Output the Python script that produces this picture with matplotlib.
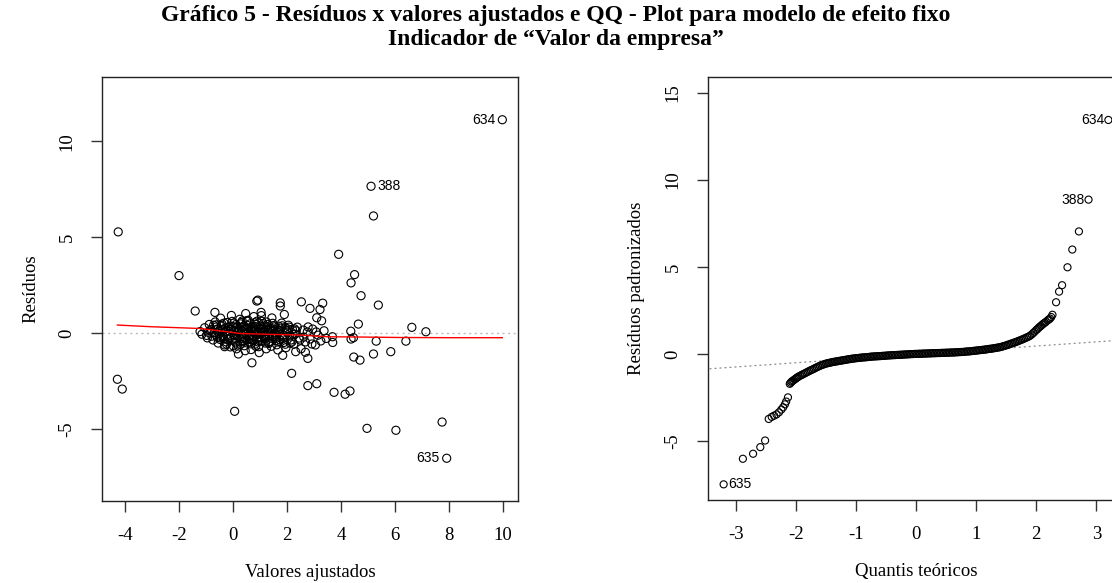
import matplotlib
matplotlib.use("Agg")
import matplotlib.pyplot as plt

# ---- dados: residuos x valores ajustados ----
cluster_x = [
    -1.22, -1.15, -1.05, -0.98, -0.92, -0.88,
    -0.82, -0.78, -0.74, -0.70, -0.66, -0.62, -0.58, -0.55, -0.52, -0.50,
    -0.46, -0.43, -0.40, -0.37, -0.34, -0.31, -0.28, -0.25, -0.22, -0.19, -0.16, -0.13, -0.10,
    -0.06, -0.03, 0.00, 0.02, 0.05, 0.08, 0.10, 0.13, 0.16, 0.19, 0.22, 0.25, 0.28, 0.30,
    0.33, 0.35, 0.38, 0.40, 0.42, 0.45, 0.47, 0.50, 0.52, 0.55, 0.57, 0.60, 0.62,
    0.65, 0.67, 0.70, 0.72, 0.75, 0.77, 0.80, 0.82, 0.85, 0.87, 0.90, 0.92, 0.95,
    0.97, 1.00, 1.02, 1.05, 1.07, 1.10, 1.13, 1.15, 1.18, 1.20, 1.23, 1.26, 1.29,
    1.32, 1.35, 1.38, 1.41, 1.44, 1.47, 1.50, 1.53, 1.56, 1.59, 1.62, 1.66, 1.69,
    1.72, 1.76, 1.80, 1.84, 1.88, 1.92, 1.96, 2.00, 2.05, 2.10, 2.15, 2.20,
    2.25, 2.30, 2.38, 2.45, 2.52, 2.60, 2.68, 2.75, 2.85, 2.95, 3.05, 3.15, 3.25,
    # segundo grupo (nucleo denso)
    -0.95, -0.85, -0.72, -0.64, -0.57, -0.48, -0.41, -0.36, -0.29, -0.24,
    -0.18, -0.12, -0.07, -0.02, 0.03, 0.07, 0.12, 0.17, 0.21, 0.26,
    0.31, 0.36, 0.41, 0.46, 0.51, 0.56, 0.61, 0.66, 0.71, 0.76,
    0.81, 0.86, 0.91, 0.96, 1.01, 1.06, 1.11, 1.16, 1.21, 1.27,
    1.33, 1.39, 1.45, 1.51, 1.58, 1.64, 1.70, 1.78, 1.86, 1.94,
    2.03, 2.12, 2.22, 2.34, 2.48, 2.62, 2.78, 2.92, 3.08, 3.45,
    # terceiro grupo
    -0.62, -0.45, -0.33, -0.21, -0.09, 0.01, 0.11, 0.18, 0.27, 0.34,
    0.43, 0.48, 0.58, 0.63, 0.68, 0.74, 0.79, 0.84, 0.89, 0.94,
    0.99, 1.04, 1.09, 1.14, 1.19, 1.24, 1.31, 1.37, 1.43, 1.49,
    1.55, 1.61, 1.68, 1.74, 1.82, 1.90, 1.98, 2.08, 2.18, 2.28,
]
cluster_y = [
    0.08, -0.06, 0.28, -0.12, 0.04, 0.45,
    0.18, -0.16, -0.36, 0.02, 0.58, 0.32, -0.22, -0.52, 0.12, -0.04,
    0.78, 0.38, 0.18, -0.12, -0.31, -0.62, 0.06, -0.46, 0.55, 0.28, 0.09, -0.27, -0.72,
    0.92, 0.61, 0.34, 0.14, -0.09, -0.29, -0.51, -0.82, 0.04, -0.18, 0.24, 0.72, 0.48, -0.41,
    0.29, 0.11, -0.04, -0.21, -0.66, -0.92, 1.02, 0.64, 0.41, 0.19, 0.03, -0.13, -0.31,
    -0.56, -0.86, 0.11, -0.16, 0.31, 0.86, 0.54, 0.34, 0.14, -0.06, -0.26, -0.46, -0.71,
    -1.02, 0.02, 0.22, 0.91, 0.61, 0.27, 0.07, -0.11, -0.31, -0.52, -0.82, 0.44, 0.16,
    -0.04, -0.21, -0.43, -0.69, 0.79, 0.51, 0.21, 0.01, -0.19, -0.39, -0.61, -0.88, 0.36,
    0.12, -0.08, 0.52, -0.29, -0.49, 0.29, -0.76, 0.06, 0.41, -0.16, -0.36, 0.19,
    -0.58, -0.06, 0.31, -0.26, -0.82, 0.16, -0.46, 0.06, -0.31, 0.21, -0.62, -0.11, -0.41,
    -0.25, 0.12, 0.41, -0.08, 0.22, -0.33, 0.47, -0.18, 0.26, -0.58,
    -0.15, 0.36, 0.18, -0.38, 0.52, -0.14, 0.31, -0.62, 0.12, -0.27,
    0.55, -0.45, 0.38, 0.02, -0.37, 0.67, -0.48, 0.28, -0.33, 0.05,
    -0.58, 0.44, 0.07, -0.19, 0.37, -0.42, 0.49, 0.16, -0.27, 0.34,
    -0.54, 0.15, -0.13, 0.39, -0.28, 0.07, -0.44, 0.26, -0.12, -0.58,
    0.22, -0.52, -0.07, 0.12, -0.36, -0.21, 0.32, -0.57, 0.06, -0.28,
    0.43, -0.26, 0.52, -0.33, 0.21, -0.67, 0.45, 0.08, -0.58, 0.63,
    -0.41, 0.24, -0.19, 0.48, 0.19, -0.39, 0.12, -0.69, 0.62, 0.28,
    -0.42, -0.24, 0.04, 0.36, -0.15, 0.58, -0.49, 0.27, 0.11, -0.21,
    0.33, -0.09, 0.17, -0.36, 0.38, -0.24, 0.14, 0.31, -0.46, 0.22,
]

outlier_x = [
    9.97, 5.11, 5.20, -4.25, -2.00, 3.91, 4.50, 4.37, 4.74, 5.38,
    -1.40, -0.67, 0.88, 0.92, 1.75, 1.75, 1.90, 2.53, 2.85, 3.22,
    3.32, 3.10, 3.28, 1.04, 4.64, 6.62, 7.14, 4.36, 3.37, 3.68,
    3.69, 4.46, 4.37, 5.30, 6.40, 5.20, 5.84, 4.47, 4.70, 0.70,
    2.17, -4.28, -4.10, 0.06, 2.77, 3.10, 3.74, 4.15, 4.33, 4.96,
    6.03, 7.74, 7.91, 2.77, 2.68, 2.32, 1.84, 0.20, -0.31,
]
outlier_y = [
    11.13, 7.66, 6.11, 5.28, 3.00, 4.11, 3.05, 2.62, 1.95, 1.46,
    1.15, 1.08, 1.67, 1.72, 1.58, 1.41, 0.97, 1.63, 1.29, 1.23,
    1.56, 0.80, 0.64, 1.08, 0.47, 0.30, 0.07, 0.10, 0.12, -0.19,
    -0.49, -0.24, -0.31, -0.42, -0.42, -1.09, -0.97, -1.25, -1.41, -1.55,
    -2.10, -2.41, -2.92, -4.08, -2.74, -2.64, -3.09, -3.19, -3.02, -4.97,
    -5.07, -4.64, -6.53, -1.32, -1.00, -0.97, -1.16, -1.09, -0.71,
]

# curva suavizada (lowess)
smooth_x = [-4.28, -3.0, -1.22, -0.73, 0.26, 1.2, 2.48, 3.47, 5.0, 6.19, 8.0, 9.97]
smooth_y = [0.42, 0.33, 0.24, 0.16, -0.02, -0.06, -0.10, -0.19, -0.21, -0.23, -0.24, -0.24]

# ---- dados: QQ-plot ----
qq_x = [
    -3.20, -2.88, -2.71, -2.59, -2.51, -2.45, -2.40, -2.36, -2.32, -2.28,
    -2.24, -2.21, -2.18, -2.16, -2.13, -2.10, -2.085, -2.07, -2.055, -2.04,
    -2.02, -2.00, -1.985, -1.97,
    -1.95, -1.90, -1.85, -1.80, -1.75, -1.70, -1.65, -1.60, -1.55, -1.50,
    -1.45, -1.40, -1.35, -1.30, -1.25, -1.20, -1.15, -1.10, -1.05, -1.00,
    -0.95, -0.90, -0.85, -0.80, -0.75, -0.70, -0.65, -0.60, -0.55, -0.50,
    -0.45, -0.40, -0.35, -0.30, -0.25, -0.20, -0.15, -0.10, -0.05, 0.00,
    0.05, 0.10, 0.15, 0.20, 0.25, 0.30, 0.35, 0.40, 0.45, 0.50,
    0.55, 0.60, 0.65, 0.70, 0.75, 0.80, 0.85, 0.90, 0.95, 1.00,
    1.05, 1.10, 1.15, 1.20, 1.25, 1.30, 1.35, 1.40, 1.45, 1.50,
    1.55, 1.60, 1.65, 1.70, 1.75, 1.80, 1.85, 1.90, 1.95,
    1.975, 2.00, 2.02, 2.04, 2.06, 2.08, 2.10, 2.12, 2.14, 2.16,
    2.19, 2.21, 2.23, 2.25, 2.27, 2.33, 2.38, 2.43, 2.52, 2.60,
    2.71, 2.87, 3.20,
    # pontos intermediarios do trecho central
    -1.925, -1.875, -1.825, -1.775, -1.725, -1.675, -1.625, -1.575, -1.525, -1.475,
    -1.425, -1.375, -1.325, -1.275, -1.225, -1.175, -1.125, -1.075, -1.025, -0.975,
    -0.925, -0.875, -0.825, -0.775, -0.725, -0.675, -0.625, -0.575, -0.525, -0.475,
    -0.425, -0.375, -0.325, -0.275, -0.225, -0.175, -0.125, -0.075, -0.025,
    0.025, 0.075, 0.125, 0.175, 0.225, 0.275, 0.325, 0.375, 0.425, 0.475,
    0.525, 0.575, 0.625, 0.675, 0.725, 0.775, 0.825, 0.875, 0.925, 0.975,
    1.025, 1.075, 1.125, 1.175, 1.225, 1.275, 1.325, 1.375, 1.425, 1.475,
    1.525, 1.575, 1.625, 1.675, 1.725, 1.775, 1.825, 1.875, 1.925,
]
qq_y = [
    -7.50, -6.03, -5.74, -5.36, -4.98, -3.74, -3.62, -3.55, -3.48, -3.36,
    -3.20, -3.07, -2.90, -2.74, -2.50, -1.72, -1.66, -1.60, -1.56, -1.52,
    -1.47, -1.42, -1.38, -1.34,
    -1.30, -1.21, -1.12, -1.03, -0.94, -0.86, -0.77, -0.69, -0.62, -0.56,
    -0.52, -0.48, -0.45, -0.42, -0.39, -0.36, -0.33, -0.30, -0.27, -0.25,
    -0.23, -0.21, -0.20, -0.18, -0.16, -0.15, -0.14, -0.13, -0.11, -0.10,
    -0.09, -0.08, -0.07, -0.06, -0.05, -0.04, -0.03, -0.02, -0.01, 0.00,
    0.01, 0.01, 0.02, 0.03, 0.03, 0.04, 0.05, 0.05, 0.06, 0.07,
    0.07, 0.08, 0.09, 0.10, 0.11, 0.12, 0.14, 0.15, 0.17, 0.19,
    0.21, 0.23, 0.25, 0.28, 0.30, 0.33, 0.36, 0.39, 0.44, 0.49,
    0.55, 0.61, 0.67, 0.74, 0.81, 0.88, 0.96, 1.05, 1.20,
    1.28, 1.37, 1.43, 1.50, 1.56, 1.62, 1.68, 1.74, 1.79, 1.84,
    1.93, 1.98, 2.03, 2.12, 2.25, 2.97, 3.58, 3.95, 4.98, 6.00,
    7.04, 8.87, 13.45,
    -1.25, -1.16, -1.07, -0.98, -0.90, -0.81, -0.73, -0.65, -0.59, -0.54,
    -0.50, -0.46, -0.43, -0.40, -0.37, -0.34, -0.31, -0.28, -0.26, -0.24,
    -0.22, -0.20, -0.19, -0.17, -0.15, -0.14, -0.13, -0.12, -0.11, -0.09,
    -0.08, -0.07, -0.06, -0.05, -0.04, -0.03, -0.02, -0.01, 0.00,
    0.00, 0.01, 0.02, 0.02, 0.03, 0.04, 0.04, 0.05, 0.06, 0.06,
    0.07, 0.08, 0.08, 0.09, 0.10, 0.11, 0.13, 0.14, 0.16, 0.18,
    0.20, 0.22, 0.24, 0.26, 0.29, 0.31, 0.34, 0.37, 0.41, 0.46,
    0.52, 0.58, 0.64, 0.70, 0.77, 0.84, 0.92, 1.00, 1.12,
]
qq_line_x = [-3.6, 3.6]
qq_line_y = [-0.896, 0.836]

labels_left = [("634", 9.97, 11.13, "right"), ("388", 5.11, 7.66, "left"), ("635", 7.91, -6.53, "right")]
labels_right = [("634", 3.20, 13.45, "right"), ("388", 2.87, 8.87, "right"), ("635", -3.20, -7.50, "left")]

serif = ["Liberation Serif", "DejaVu Serif"]
sans = ["Liberation Sans", "DejaVu Sans"]
plt.rcParams["font.family"] = serif
plt.rcParams["axes.unicode_minus"] = False

fig = plt.figure(figsize=(11.12, 5.83), dpi=100)
ax1 = fig.add_axes([102 / 1112, 1 - 501 / 583, 416 / 1112, 424 / 583])
ax2 = fig.add_axes([708 / 1112, 1 - 500 / 583, 416 / 1112, 423 / 583])

def style(ax):
    for s in ax.spines.values():
        s.set_linewidth(1.0)
        s.set_color("#222222")
    ax.tick_params(axis="both", length=8, width=1.0, labelsize=13.5, pad=11, color="#333333")
    for lab in ax.get_yticklabels():
        lab.set_rotation(90)
        lab.set_va("center")

# painel esquerdo
ax1.axhline(0, color="#bbbbbb", lw=1.0, ls=(0, (1.5, 2.5)), zorder=1)
ax1.scatter(cluster_x, cluster_y, s=34, facecolors="none", edgecolors="black", linewidths=0.8, zorder=2)
ax1.scatter(outlier_x, outlier_y, s=34, facecolors="none", edgecolors="black", linewidths=0.8, zorder=2)
ax1.plot(smooth_x, smooth_y, color="red", lw=1.0, zorder=3)
for txt, x, y, ha in labels_left:
    off = -0.25 if ha == "right" else 0.25
    ax1.text(x + off, y, txt, ha=ha, va="center", fontsize=10, family=sans)
ax1.set_xlim(-4.85, 10.55)
ax1.set_ylim(-8.76, 13.36)
ax1.set_xticks([-4, -2, 0, 2, 4, 6, 8, 10])
ax1.set_yticks([-5, 0, 5, 10])
ax1.set_xlabel("Valores ajustados", fontsize=13.5, labelpad=14)
ax1.set_ylabel("Resíduos", fontsize=13.5, labelpad=14)
style(ax1)

# painel direito
ax2.plot(qq_line_x, qq_line_y, color="#888888", lw=0.9, ls=(0, (1.5, 2.5)), zorder=1)
ax2.scatter(qq_x, qq_y, s=26, facecolors="none", edgecolors="black", linewidths=0.8, zorder=2)
for txt, x, y, ha in labels_right:
    off = -0.07 if ha == "right" else 0.07
    ax2.text(x + off, y, txt, ha=ha, va="center", fontsize=10, family=sans)
ax2.set_xlim(-3.46, 3.46)
ax2.set_ylim(-8.4, 15.92)
ax2.set_xticks([-3, -2, -1, 0, 1, 2, 3])
ax2.set_yticks([-5, 0, 5, 10, 15])
ax2.set_xlabel("Quantis teóricos", fontsize=13.5, labelpad=14)
ax2.set_ylabel("Resíduos padronizados", fontsize=13.5, labelpad=14)
style(ax2)

fig.text(0.5, 1 - 15 / 583, "Gráfico 5 - Resíduos x valores ajustados e QQ - Plot para modelo de efeito fixo",
         ha="center", va="center", fontsize=17, fontweight="bold")
fig.text(0.5, 1 - 39 / 583, "Indicador de “Valor da empresa”",
         ha="center", va="center", fontsize=17, fontweight="bold")

fig.savefig("out.png", dpi=100)
